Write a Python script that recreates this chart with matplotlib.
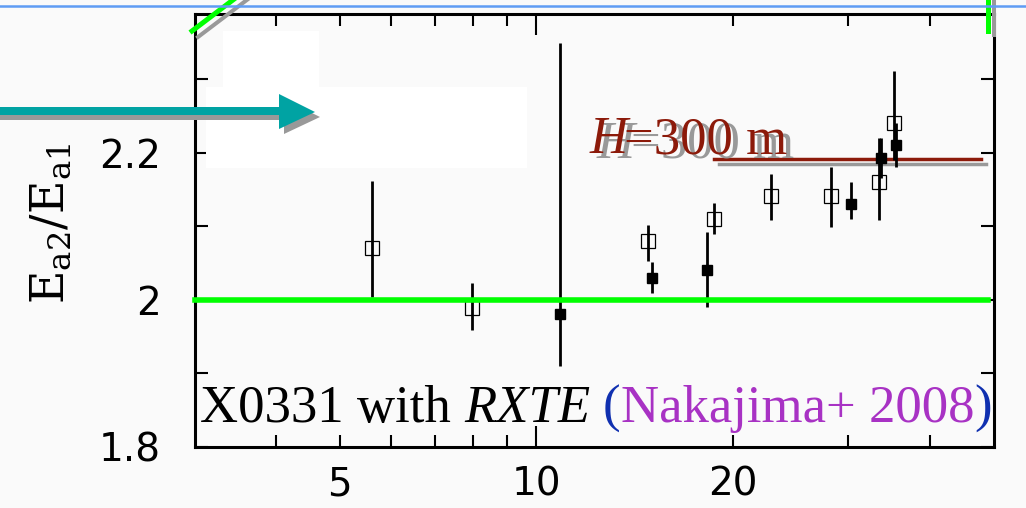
import matplotlib.pyplot as plt
from matplotlib.lines import Line2D
from matplotlib.patches import Polygon, Rectangle
from matplotlib.transforms import offset_copy

plt.rcParams['mathtext.fontset'] = 'dejavuserif'

# Open squares: ratio and the ends of its error bar
open_x = [5.61, 7.98, 14.8, 18.67, 22.85, 28.22, 33.46, 35.27]
open_y = [2.070, 1.989, 2.080, 2.110, 2.141, 2.141, 2.160, 2.240]
open_lo = [2.003, 1.959, 2.052, 2.089, 2.109, 2.099, 2.109, 2.190]
open_hi = [2.161, 2.023, 2.102, 2.131, 2.171, 2.181, 2.220, 2.311]

# Filled squares
fill_x = [10.88, 15.03, 18.24, 30.28, 33.7, 35.5]
fill_y = [1.980, 2.030, 2.041, 2.130, 2.193, 2.211]
fill_lo = [1.909, 2.009, 1.990, 2.110, 2.165, 2.180]
fill_hi = [2.349, 2.051, 2.092, 2.160, 2.220, 2.240]

# Harmonic ratio 2 and the H = 300 m level
ref_x = [3, 49]
ref_y = 2.0
h_x = [18.7, 47.9]
h_y = 2.192

x_major = [10]
x_minor = [4, 5, 6, 7, 8, 9, 20, 30, 40]
x_minor_labels = ['', '5', '', '', '', '', '20', '', '']
y_major = [1.8, 2.0, 2.2]
y_major_labels = ['1.8', '2', '2.2']
y_minor = [1.9, 2.1, 2.3]

W, H = 1026, 508
BG = '#fafafa'


def fx(x):
    return x / W


def fy(y):
    return 1 - y / H


fig = plt.figure(figsize=(W / 100, H / 100), dpi=100, facecolor=BG)
ax = fig.add_axes([fx(194.5), fy(446.5), 799 / W, 432.5 / H])
ax.set_facecolor(BG)
ax.set_xscale('log')
ax.set_xlim(3, 50)
ax.set_ylim(1.8, 2.389)

ax.set_xticks(x_major, labels=['10'])
ax.set_xticks(x_minor, labels=x_minor_labels, minor=True)
ax.set_yticks(y_major, labels=y_major_labels)
ax.set_yticks(y_minor, labels=[], minor=True)
ax.tick_params(which='both', direction='in', top=True, right=True,
               width=1.5, labelsize=28, colors='black')
ax.tick_params(axis='x', which='major', length=15, pad=14)
ax.tick_params(axis='x', which='minor', length=8.6, pad=14)
ax.tick_params(axis='y', which='both', length=9.4, pad=24)
for sp in ax.spines.values():
    sp.set_linewidth(2.2)

# H = 300 m level with its drop shadow, below the data
shadow = offset_copy(ax.transData, fig=fig, x=5, y=-5, units='dots')
ax.plot(h_x, [h_y, h_y], color='#999999', lw=2.5, transform=shadow, zorder=1)
ax.plot(h_x, [h_y, h_y], color='#8c1a0a', lw=2.5, zorder=1.5)

# error bars and markers
ax.vlines(open_x, open_lo, open_hi, color='black', lw=2.0, zorder=3)
ax.vlines(fill_x, fill_lo, fill_hi, color='black', lw=2.0, zorder=3)
ax.plot(open_x, open_y, 's', ms=10, mfc='none', mec='black', mew=0.9, zorder=4)
ax.plot(fill_x, fill_y, 's', ms=7, mfc='black', mec='black', zorder=4)

ax.plot(ref_x, [ref_y, ref_y], color='#00ff00', lw=4, zorder=5, clip_on=False)

ax.set_ylabel(r'$\mathrm{E_{a2}/E_{a1}}$', fontsize=33)
ax.yaxis.set_label_coords(fx(74), fy(224), transform=fig.transFigure)


# --- slide decorations in figure pixel coordinates ---
def fig_line(xs, ys, **kw):
    fig.add_artist(Line2D([fx(v) for v in xs], [fy(v) for v in ys],
                          transform=fig.transFigure, **kw))


fig_line([198, 260], [37, -10], color='#999999', lw=2.9, zorder=4)
fig_line([192, 254], [31, -16], color='#00ff00', lw=3.6, zorder=4.5)
fig_line([994, 994], [-2, 35], color='#999999', lw=2.9, zorder=4)
fig_line([988, 988], [-2, 31], color='#00ff00', lw=3.6, zorder=4.5)
fig_line([0, W], [6, 6], color='#5f9cf4', lw=1.8, zorder=5)

for x0, y0, x1, y1 in [(223, 31, 319, 87), (206, 87, 527, 168)]:
    fig.add_artist(Rectangle((fx(x0), fy(y1)), (x1 - x0) / W, (y1 - y0) / H,
                             transform=fig.transFigure, color='white',
                             lw=0, zorder=3))

arrow = [(-5, 107), (279, 107), (279, 94), (315, 112), (279, 129), (279, 115), (-5, 115)]
for dx, col in [(5, '#999999'), (0, '#00a3a3')]:
    fig.add_artist(Polygon([(fx(x + dx), fy(y + dx)) for x, y in arrow],
                           closed=True, transform=fig.transFigure,
                           color=col, lw=0, zorder=4))

renderer = fig.canvas.get_renderer()


def text_run(x, y, pieces, size):
    # place pieces one after another on a common baseline
    for s, color, style, gap in pieces:
        t = fig.text(fx(x), fy(y), s, fontsize=size, color=color, style=style,
                     family='Liberation Serif', ha='left', va='baseline',
                     zorder=6)
        x = t.get_window_extent(renderer).x1 + gap


h_pieces = lambda c: [('H', c, 'italic', -4), ('=300 m', c, 'normal', 0)]
text_run(597, 158, h_pieces('#999999'), 38)
text_run(590, 153, h_pieces('#8c1a0a'), 38)

sp = 13
text_run(200, 422, [('X0331 with', 'black', 'normal', sp),
                    ('RXTE', 'black', 'italic', sp),
                    ('(', '#1030b0', 'normal', 0),
                    ('Nakajima+ 2008', '#a832c4', 'normal', 0),
                    (')', '#1030b0', 'normal', 0)], 38)

fig.savefig('out.png', dpi=100, facecolor=BG)
